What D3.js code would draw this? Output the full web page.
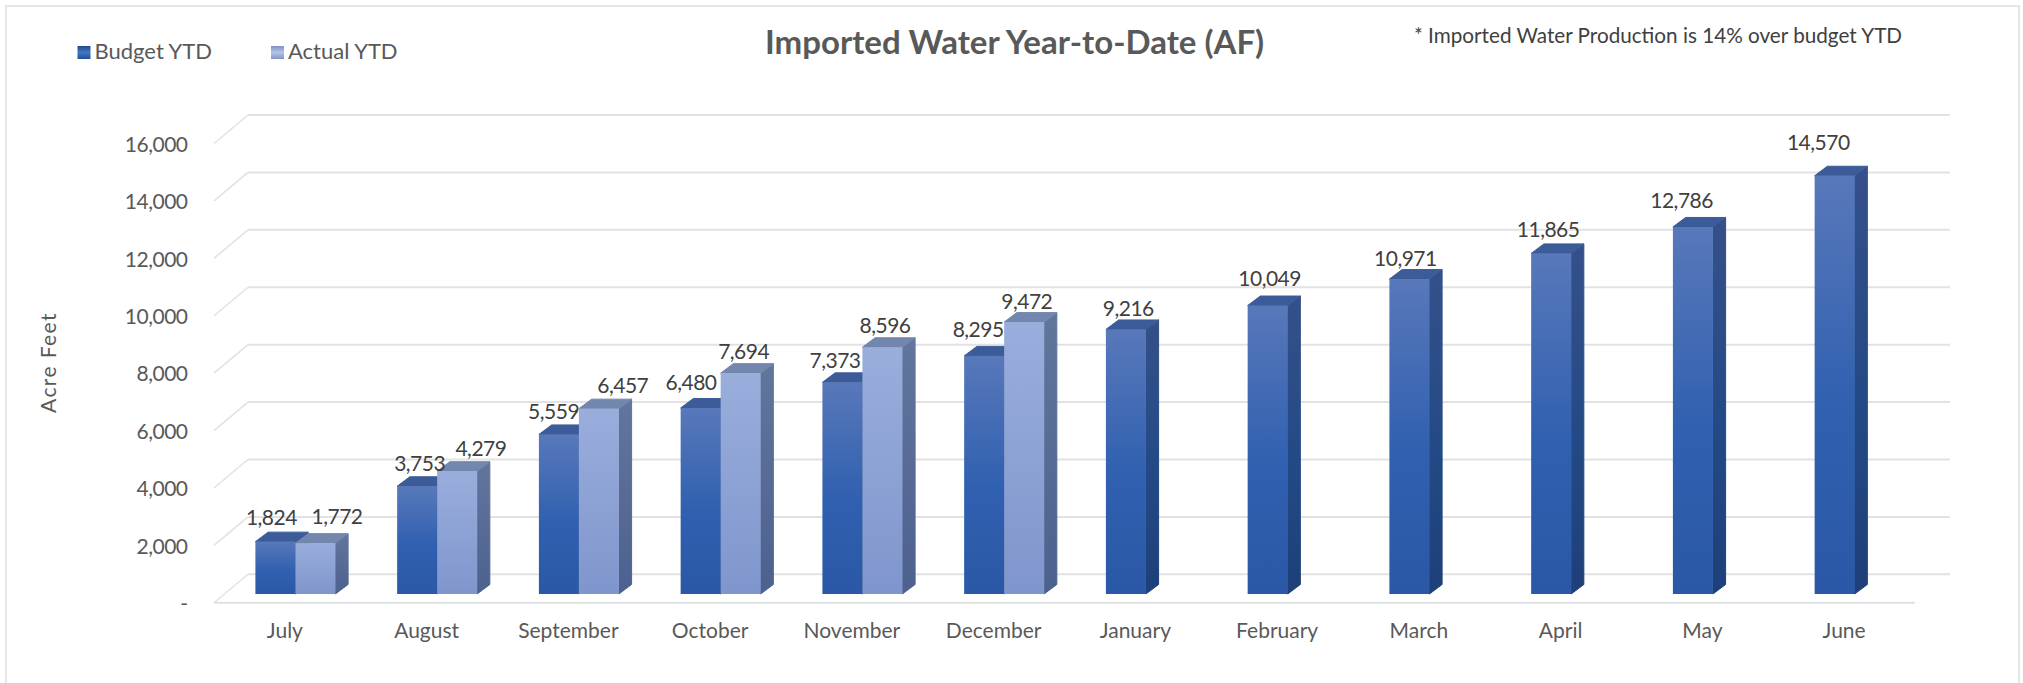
<!DOCTYPE html>
<html>
<head>
<meta charset="utf-8">
<style>
    html, body { margin: 0; padding: 0; background: #fff; overflow: hidden; }
    svg { display: block; }
    text { font-family: Lato, "Noto Sans", sans-serif; }
    .axis path { display: none; }
    .axis line { display: none; }
</style>
<script src="https://cdn.jsdelivr.net/npm/d3@7"></script>
</head>
<body>
<div id="chart"></div>
<script>
    /******data******/
    var months = ["July", "August", "September", "October", "November", "December",
        "January", "February", "March", "April", "May", "June"];
    var budgetYTD = [1824, 3753, 5559, 6480, 7373, 8295, 9216, 10049, 10971, 11865, 12786, 14570];
    var actualYTD = [1772, 4279, 6457, 7694, 8596, 9472];
    var yTicks = [0, 2000, 4000, 6000, 8000, 10000, 12000, 14000, 16000];
    var seriesNames = ["Budget YTD", "Actual YTD"];
    var titleText = "Imported Water Year-to-Date (AF)";
    var noteText = "* Imported Water Production is 14% over budget YTD";
    var yAxisTitle = "Acre Feet";

    /******layout******/
    var w = 2023;
    var h = 683;
    var floorLeft = 214, floorRight = 1915;
    var wallDx = 34, wallDy = 28.5;
    var floorY = 602.8;
    var unitH = 459.3;          // pixel height of the 0-16,000 range
    var barBase = 594;
    var depthX = 12.7, depthY = 9.5;

    // the data labels were hand placed in the original, offsets from bar's top left corner
    var budgetNudge = [[16, -24], [22.5, -23], [14.7, -23], [10.4, -26], [12.6, -21.7], [14, -26],
        [22.4, -21.2], [22, -27], [16, -21], [17, -23.5], [8.7, -27], [3.6, -33]];
    var actualNudge = [[41.6, -27], [43.8, -23], [43.9, -23], [23, -21.5], [22.6, -21.6], [22.6, -20.5]];

    var svg = d3.select("#chart")
        .append("svg")
        .attr("width", w)
        .attr("height", h);

    var defs = svg.append("defs");
    function gradient(id, stops) {
        var g = defs.append("linearGradient")
            .attr("id", id)
            .attr("x1", 0).attr("y1", 0)
            .attr("x2", 0).attr("y2", 1);
        stops.forEach(function(s) {
            g.append("stop").attr("offset", s[0]).attr("stop-color", s[1]);
        });
    }
    gradient("budgetFront", [[0, "#5878ba"], [0.55, "#3060b0"], [1, "#2a58a6"]]);
    gradient("budgetSide", [[0, "#35508a"], [0.55, "#234a86"], [1, "#1e3f79"]]);
    gradient("actualFront", [[0, "#9aaedc"], [1, "#7f96cd"]]);
    gradient("actualSide", [[0, "#62759c"], [1, "#4d618f"]]);
    gradient("swatchBudget", [[0, "#1f4a8c"], [0.5, "#3f78c4"], [1, "#234f96"]]);
    gradient("swatchActual", [[0, "#7d92c4"], [0.5, "#b4c4e6"], [1, "#8094c6"]]);

    // page frame, runs off the bottom of the picture
    svg.append("rect")
        .attr("x", 6)
        .attr("y", 6)
        .attr("width", 2013)
        .attr("height", 700)
        .attr("fill", "none")
        .attr("stroke", "#e6e6e6")
        .attr("stroke-width", 2);

    /******scales******/
    var xScale = d3.scaleBand()
        .domain(months)
        .range([floorLeft, floorRight]);
    var seriesScale = d3.scaleBand()
        .domain(seriesNames)
        .range([41.4, 121.4]);
    var yFront = d3.scaleLinear().domain([0, 16000]).range([floorY, floorY - unitH]);
    var yBack = d3.scaleLinear().domain([0, 16000]).range([floorY - wallDy, floorY - wallDy - unitH]);
    var yBar = d3.scaleLinear().domain([0, 16000]).range([barBase, barBase - unitH]);

    /******3d walls******/
    svg.selectAll(".grid")
        .data(yTicks)
        .enter()
        .append("line")
        .attr("class", "grid")
        .attr("x1", floorLeft + wallDx)
        .attr("x2", floorRight + 35)
        .attr("y1", function(d) { return yBack(d); })
        .attr("y2", function(d) { return yBack(d); })
        .attr("stroke", "#e2e2e2")
        .attr("stroke-width", 2);
    svg.selectAll(".wall")
        .data(yTicks)
        .enter()
        .append("line")
        .attr("class", "wall")
        .attr("x1", floorLeft)
        .attr("x2", floorLeft + wallDx)
        .attr("y1", function(d) { return yFront(d); })
        .attr("y2", function(d) { return yBack(d); })
        .attr("stroke", "#e2e2e2")
        .attr("stroke-width", 1.5);
    svg.append("line")
        .attr("x1", floorLeft)
        .attr("x2", floorRight)
        .attr("y1", yFront(0))
        .attr("y2", yFront(0))
        .attr("stroke", "#dfe2e4")
        .attr("stroke-width", 2);

    /******bars******/
    function drawSeries(values, name, colors, nudges) {
        var rows = values.map(function(v, i) {
            return { month: months[i], value: v, nudge: nudges[i] };
        });
        var left = function(d) { return xScale(d.month) + seriesScale(name); };
        var bw = seriesScale.bandwidth();
        var bars = svg.selectAll(".bar-" + colors.key)
            .data(rows)
            .enter()
            .append("g")
            .attr("class", "bar-" + colors.key);
        // right side
        bars.append("path")
            .attr("d", function(d) {
                var x = left(d) + bw, t = yBar(d.value);
                return "M" + x + "," + t + "L" + (x + depthX) + "," + (t - depthY) +
                    "L" + (x + depthX) + "," + (barBase - depthY) + "L" + x + "," + barBase + "Z";
            })
            .attr("fill", "url(#" + colors.side + ")")
            .attr("stroke", "url(#" + colors.side + ")")
            .attr("stroke-linejoin", "round");
        // top
        bars.append("path")
            .attr("d", function(d) {
                var x = left(d), t = yBar(d.value);
                return "M" + x + "," + t + "L" + (x + depthX) + "," + (t - depthY) +
                    "L" + (x + bw + depthX) + "," + (t - depthY) + "L" + (x + bw) + "," + t + "Z";
            })
            .attr("fill", colors.top)
            .attr("stroke", colors.top)
            .attr("stroke-linejoin", "round");
        // front
        bars.append("rect")
            .attr("x", left)
            .attr("y", function(d) { return yBar(d.value); })
            .attr("width", bw)
            .attr("height", function(d) { return barBase - yBar(d.value); })
            .attr("fill", "url(#" + colors.front + ")");
        return rows;
    }
    var budgetRows = drawSeries(budgetYTD, seriesNames[0],
        { key: "budget", front: "budgetFront", side: "budgetSide", top: "#3c5b99" }, budgetNudge);
    var actualRows = drawSeries(actualYTD, seriesNames[1],
        { key: "actual", front: "actualFront", side: "actualSide", top: "#7386ad" }, actualNudge);

    /******data labels******/
    function drawLabels(rows, name, key) {
        svg.selectAll(".label-" + key)
            .data(rows)
            .enter()
            .append("text")
            .attr("class", "label-" + key)
            .text(function(d) { return d3.format(",")(d.value); })
            .attr("x", function(d) { return xScale(d.month) + seriesScale(name) + d.nudge[0]; })
            .attr("y", function(d) { return yBar(d.value) + d.nudge[1]; })
            .attr("dy", "0.36em")
            .attr("text-anchor", "middle")
            .attr("font-size", "21px")
            .attr("letter-spacing", "-0.5px")
            .attr("fill", "#404040");
    }
    drawLabels(budgetRows, seriesNames[0], "budget");
    drawLabels(actualRows, seriesNames[1], "actual");

    /******axes******/
    var yAxis = d3.axisLeft(yFront)
        .tickValues(yTicks)
        .tickSize(0)
        .tickPadding(0)
        .tickFormat(function(d) { return d === 0 ? "-" : d3.format(",")(d); });
    svg.append("g")
        .attr("class", "axis")
        .attr("transform", "translate(187.5,1)")
        .call(yAxis)
        .selectAll("text")
        .attr("font-size", "21px")
        .attr("letter-spacing", "-0.5px")
        .attr("font-family", "Lato")
        .attr("fill", "#595959");

    var xAxis = d3.axisBottom(xScale)
        .tickSize(0)
        .tickPadding(0);
    svg.append("g")
        .attr("class", "axis")
        .attr("transform", "translate(0,623)")
        .call(xAxis)
        .selectAll("text")
        .attr("font-size", "21px")
        .attr("font-family", "Lato")
        .attr("fill", "#595959");

    svg.append("text")
        .text(yAxisTitle)
        .attr("transform", "translate(48,362.5) rotate(-90)")
        .attr("dy", "0.36em")
        .attr("text-anchor", "middle")
        .attr("font-size", "21px")
        .attr("letter-spacing", "1.4px")
        .attr("fill", "#595959");

    /******title, note, legend******/
    svg.append("text")
        .text(titleText)
        .attr("x", 765)
        .attr("y", 54)
        .attr("font-size", "33px")
        .attr("font-weight", "bold")
        .attr("fill", "#595959");
    svg.append("text")
        .text(noteText)
        .attr("x", 1414)
        .attr("y", 43)
        .attr("font-size", "20.7px")
        .attr("fill", "#404040");

    var legendX = d3.scaleOrdinal().domain(seriesNames).range([77.5, 271]);
    var legendFill = d3.scaleOrdinal().domain(seriesNames).range(["url(#swatchBudget)", "url(#swatchActual)"]);
    var legend = svg.selectAll(".legend")
        .data(seriesNames)
        .enter()
        .append("g")
        .attr("class", "legend")
        .attr("transform", function(d) { return "translate(" + legendX(d) + ",46)"; });
    legend.append("rect")
        .attr("width", 13)
        .attr("height", 13)
        .attr("fill", function(d) { return legendFill(d); });
    legend.append("text")
        .text(function(d) { return d; })
        .attr("x", 17)
        .attr("y", 5)
        .attr("dy", "0.36em")
        .attr("font-size", "22px")
        .attr("fill", "#595959");
</script>
</body>
</html>
